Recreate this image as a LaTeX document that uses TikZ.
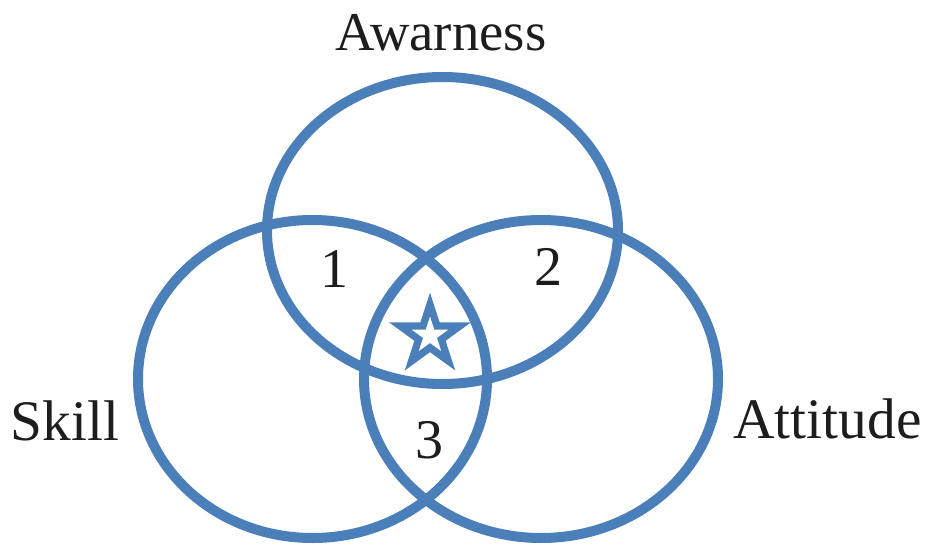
\documentclass[tikz,border=0pt]{standalone}
\usepackage{fontspec}
\setmainfont{Liberation Serif}
\definecolor{vennblue}{RGB}{74,127,185}
\definecolor{textblack}{RGB}{30,28,28}
\tikzset{
  venn/.style={draw=vennblue, line width=7.5pt},
  biglabel/.style={inner sep=0pt, anchor=base, text=textblack, font=\fontsize{43}{43}\selectfont},
  numlabel/.style={inner sep=0pt, anchor=base, text=textblack, font=\fontsize{42}{42}\selectfont},
}
\begin{document}
\begin{tikzpicture}[x=0.75pt, y=-0.75pt]
\useasboundingbox (0,0) rectangle (928,546);
% ellipses
\draw[venn] (312.5,379) ellipse [x radius=174.5, y radius=159];
\draw[venn] (541,379) ellipse [x radius=177, y radius=159];
\draw[venn] (442.5,230.5) ellipse [x radius=175.5, y radius=153.5];
% star
\begin{scope}[shift={(430,335.7)}]
\fill[vennblue, even odd rule]
  (-90:43) -- (-54:16.43) -- (-18:43) -- (18:16.43) -- (54:43) -- (90:16.43)
  -- (126:43) -- (162:16.43) -- (198:43) -- (234:16.43) -- cycle
  (-90:19.5) -- (-54:7.45) -- (-18:19.5) -- (18:7.45) -- (54:19.5) -- (90:7.45)
  -- (126:19.5) -- (162:7.45) -- (198:19.5) -- (234:7.45) -- cycle;
\end{scope}
% labels
\node[biglabel, font=\fontsize{41}{41}\selectfont] (aw) at (441,50.5) {Awarness};
\node[biglabel] (sk) at (65,440) {Skill};
\node[biglabel] (at) at (827.5,438) {Attitude};
\node[numlabel] (n1) at (334,287) {1};
\node[numlabel] (n2) at (548.5,285) {2};
\node[numlabel] (n3) at (429,458) {3};
\end{tikzpicture}
\end{document}
